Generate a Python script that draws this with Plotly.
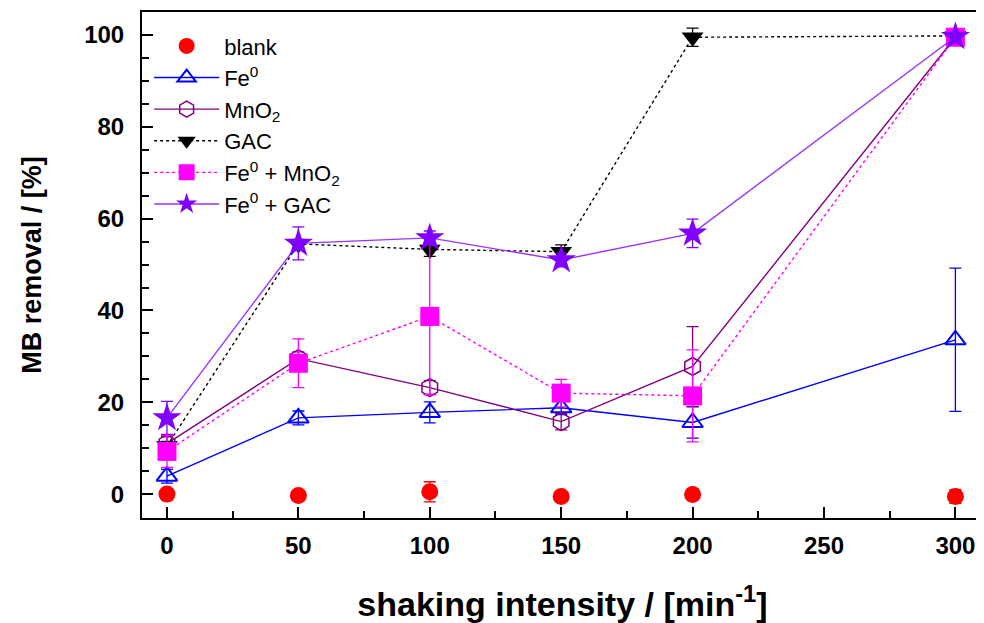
import plotly.graph_objects as go

x = [0, 50, 100, 150, 200, 300]

blank = [0.0, -0.3, 0.5, -0.5, -0.1, -0.5]
blank_err = [0.5, 0.5, 2.2, 0.5, 0.5, 1.5]

fe0 = [3.9, 16.6, 17.8, 18.8, 15.6, 33.6]
fe0_err = [1.5, 1.5, 2.3, 1.5, 3.4, 15.6]

mno2 = [11.0, 29.5, 23.2, 15.8, 27.8, 99.5]
mno2_err = [1.5, 1.5, 1.5, 1.8, 8.7, 0.5]

gac = [10.5, 54.5, 53.3, 52.8, 99.5, 99.8]
gac_err = [1.0, 1.0, 1.5, 1.5, 2.0, 0.5]

fe0_mno2 = [9.3, 28.5, 38.7, 22.0, 21.4, 99.5]
fe0_mno2_err = [3.5, 5.3, 17.0, 3.0, 10.0, 0.5]

fe0_gac = [16.6, 54.6, 55.8, 51.0, 56.8, 99.6]
fe0_gac_err = [3.6, 3.6, 1.5, 1.5, 3.1, 0.5]

names = ["blank", "Fe<sup>0</sup>", "MnO<sub>2</sub>", "GAC",
         "Fe<sup>0</sup> + MnO<sub>2</sub>", "Fe<sup>0</sup> + GAC"]

x_ticks = [0, 50, 100, 150, 200, 250, 300]
y_ticks = [0, 20, 40, 60, 80, 100]

FONT = "Liberation Sans, Arial, sans-serif"

fig = go.Figure()

def add(y, err, name, color, symbol, size, mode="lines+markers", dash="solid",
        lcolor=None, mline=0):
    fig.add_trace(go.Scatter(
        x=x, y=y, name=name, mode=mode,
        line=dict(color=lcolor or color, width=1.4, dash=dash),
        marker=dict(symbol=symbol, size=size, color=color,
                    line=dict(color=color, width=mline)),
        error_y=dict(type="data", array=err, visible=True, color=color,
                     thickness=1.3, width=6),
    ))

add(blank, blank_err, names[0], "#FF0000", "circle", 17, mode="markers")
add(fe0, fe0_err, names[1], "#0000FF", "triangle-up-open", 18, mline=2)
add(mno2, mno2_err, names[2], "#800080", "hexagon-open", 18, mline=1.5)
add(gac, gac_err, names[3], "#000000", "triangle-down", 19, dash="dot")
add(fe0_mno2, fe0_mno2_err, names[4], "#FF00FF", "square", 19, dash="dot")
add(fe0_gac, fe0_gac_err, names[5], "#8000FF", "star", 22, lcolor="#9933FF")

fig.update_layout(
    width=976, height=615,
    margin=dict(l=134, r=1, t=4, b=105, autoexpand=False),
    paper_bgcolor="white", plot_bgcolor="white",
    font=dict(family=FONT, color="black"),
    showlegend=True,
    legend=dict(x=0.0085, y=0.974, xanchor="left", yanchor="top",
                bgcolor="rgba(0,0,0,0)", borderwidth=0,
                font=dict(size=22, family=FONT),
                itemwidth=65, tracegroupgap=0),
)

fig.update_xaxes(
    range=[-9.5, 310.5], tickvals=x_ticks, ticktext=[str(v) for v in x_ticks],
    automargin=False,
    ticks="inside", ticklen=11, tickwidth=2, tickcolor="black",
    minor=dict(dtick=25, tick0=0, ticks="inside", ticklen=7, tickwidth=2, tickcolor="black"),
    showline=True, linewidth=2, linecolor="black", mirror=True,
    showgrid=False, zeroline=False, ticklabelstandoff=5,
    tickfont=dict(size=24, family=FONT, weight="bold"),
    title=dict(text="shaking intensity / [min<sup>-1</sup>]",
               font=dict(size=34, family=FONT, weight="bold"),
               standoff=37),
)

fig.update_yaxes(
    range=[-5.2, 105.0], tickvals=y_ticks, ticktext=[str(v) for v in y_ticks],
    automargin=False,
    ticks="inside", ticklen=11, tickwidth=2, tickcolor="black",
    minor=dict(dtick=5, tick0=0, ticks="inside", ticklen=7, tickwidth=2, tickcolor="black"),
    showline=True, linewidth=2, linecolor="black", mirror=True,
    showgrid=False, zeroline=False, ticklabelstandoff=11,
    tickfont=dict(size=24, family=FONT, weight="bold"),
    title=dict(text="MB removal / [%]",
               font=dict(size=27, family=FONT, weight="bold"),
               standoff=35),
)

fig.write_html("out.html")
